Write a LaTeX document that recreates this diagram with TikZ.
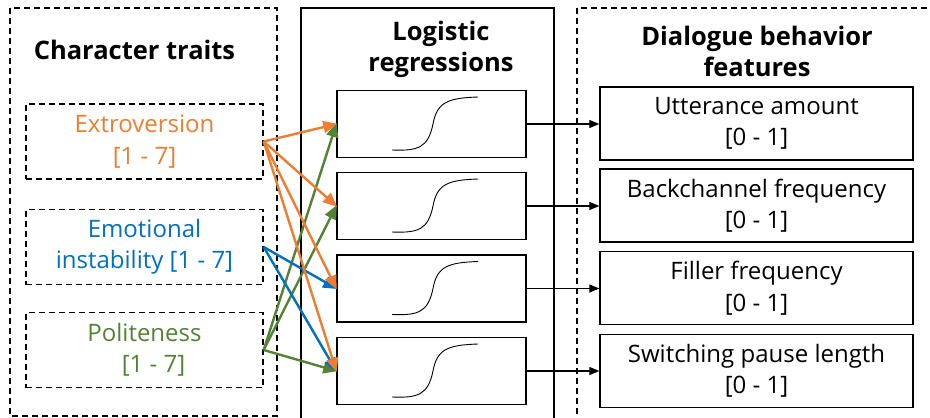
\documentclass[tikz,border=0pt]{standalone}
\usepackage{fontspec}
\setmainfont{Open Sans}
\usetikzlibrary{arrows.meta}
\definecolor{corange}{RGB}{237,125,49}
\definecolor{cblue}{RGB}{0,112,192}
\definecolor{cgreen}{RGB}{84,130,53}
\begin{document}
\begin{tikzpicture}[x=1pt,y=-1pt,
  framedash/.style={draw, line width=1.4pt, dash pattern=on 6pt off 4pt},
  framesolid/.style={draw, line width=1.4pt},
  title/.style={align=center, font=\fontsize{25.5}{31}\selectfont\bfseries},
  trait/.style={draw, line width=1.4pt, dash pattern=on 6pt off 4pt, minimum width=237pt, minimum height=75pt, inner sep=0pt, align=center, font=\fontsize{24}{31.5}\selectfont},
  lrbox/.style={draw, line width=1.4pt, minimum width=189pt, minimum height=67pt, inner sep=0pt},
  featbox/.style={draw, line width=1.4pt, minimum width=313pt, minimum height=73pt, inner sep=0pt, align=center, font=\fontsize{24}{31.5}\selectfont},
  link/.style={line width=2.4pt, -{Triangle[length=14pt,width=12pt]}, shorten >=-1pt},
  outarrow/.style={line width=1.3pt, -{Triangle[length=10pt,width=8pt]}},
  sigmoid/.pic={\draw[line width=0.9pt] (-39.5,26) .. controls (-13.5,27) and (-3.5,24) .. (1.5,0) .. controls (5.5,-22) and (16.5,-26) .. (46.5,-27);}
]
\useasboundingbox (0,0) rectangle (930,418);
\clip (0,0) rectangle (930,418);

% frames
\draw[framedash] (10,8) rectangle (277,416);
\draw[framesolid] (301,8) rectangle (554,430);
\draw[framedash] (577,8) rectangle (945,430);

% titles
\node[title] (t1) at (134.5,50) {Character traits};
\node[title] (t2) at (441,49.5) {Logistic\\regressions};
\node[title] (t3) at (757,51.5) {Dialogue behavior\\features};

% trait boxes
\node[trait, text=corange] (ext) at (144.5,141.5) {Extroversion\\{}[1 - 7]};
\node[trait, text=cblue] (emo) at (144.5,247) {Emotional\\instability [1 - 7]};
\node[trait, text=cgreen] (pol) at (144.5,350) {Politeness\\\hspace*{18pt}[1 - 7]};

% logistic regression boxes
\node[lrbox] (lr1) at (431.5,124) {};
\node[lrbox] (lr2) at (431.5,206) {};
\node[lrbox] (lr3) at (431.5,288.5) {};
\node[lrbox] (lr4) at (431.5,371) {};
\foreach \n in {lr1,lr2,lr3,lr4} { \pic at (\n.center) {sigmoid}; }

% feature boxes
\node[featbox] (f1) at (756.5,123.5) {Utterance amount\\{}[0 - 1]};
\node[featbox] (f2) at (756.5,205.5) {Backchannel frequency\\{}[0 - 1]};
\node[featbox] (f3) at (756.5,288) {Filler frequency\\{}[0 - 1]};
\node[featbox] (f4) at (756.5,371) {Switching pause length\\{}[0 - 1]};

% colored links
\draw[link, cgreen] (pol.east) -- (lr1.west);
\draw[link, cgreen] (pol.east) -- (lr2.west);
\draw[link, cgreen] (pol.east) -- (lr4.west);
\draw[link, cblue] (emo.east) -- (lr3.west);
\draw[link, cblue] (emo.east) -- (lr4.west);
\draw[link, corange] (ext.east) -- (lr1.west);
\draw[link, corange] (ext.east) -- (lr2.west);
\draw[link, corange] (ext.east) -- (lr3.west);
\draw[link, corange] (ext.east) -- (lr4.west);

% output arrows
\draw[outarrow] (lr1.east) -- (lr1.east -| f1.west);
\draw[outarrow] (lr2.east) -- (lr2.east -| f2.west);
\draw[outarrow] (lr3.east) -- (lr3.east -| f3.west);
\draw[outarrow] (lr4.east) -- (lr4.east -| f4.west);
\end{tikzpicture}
\end{document}
